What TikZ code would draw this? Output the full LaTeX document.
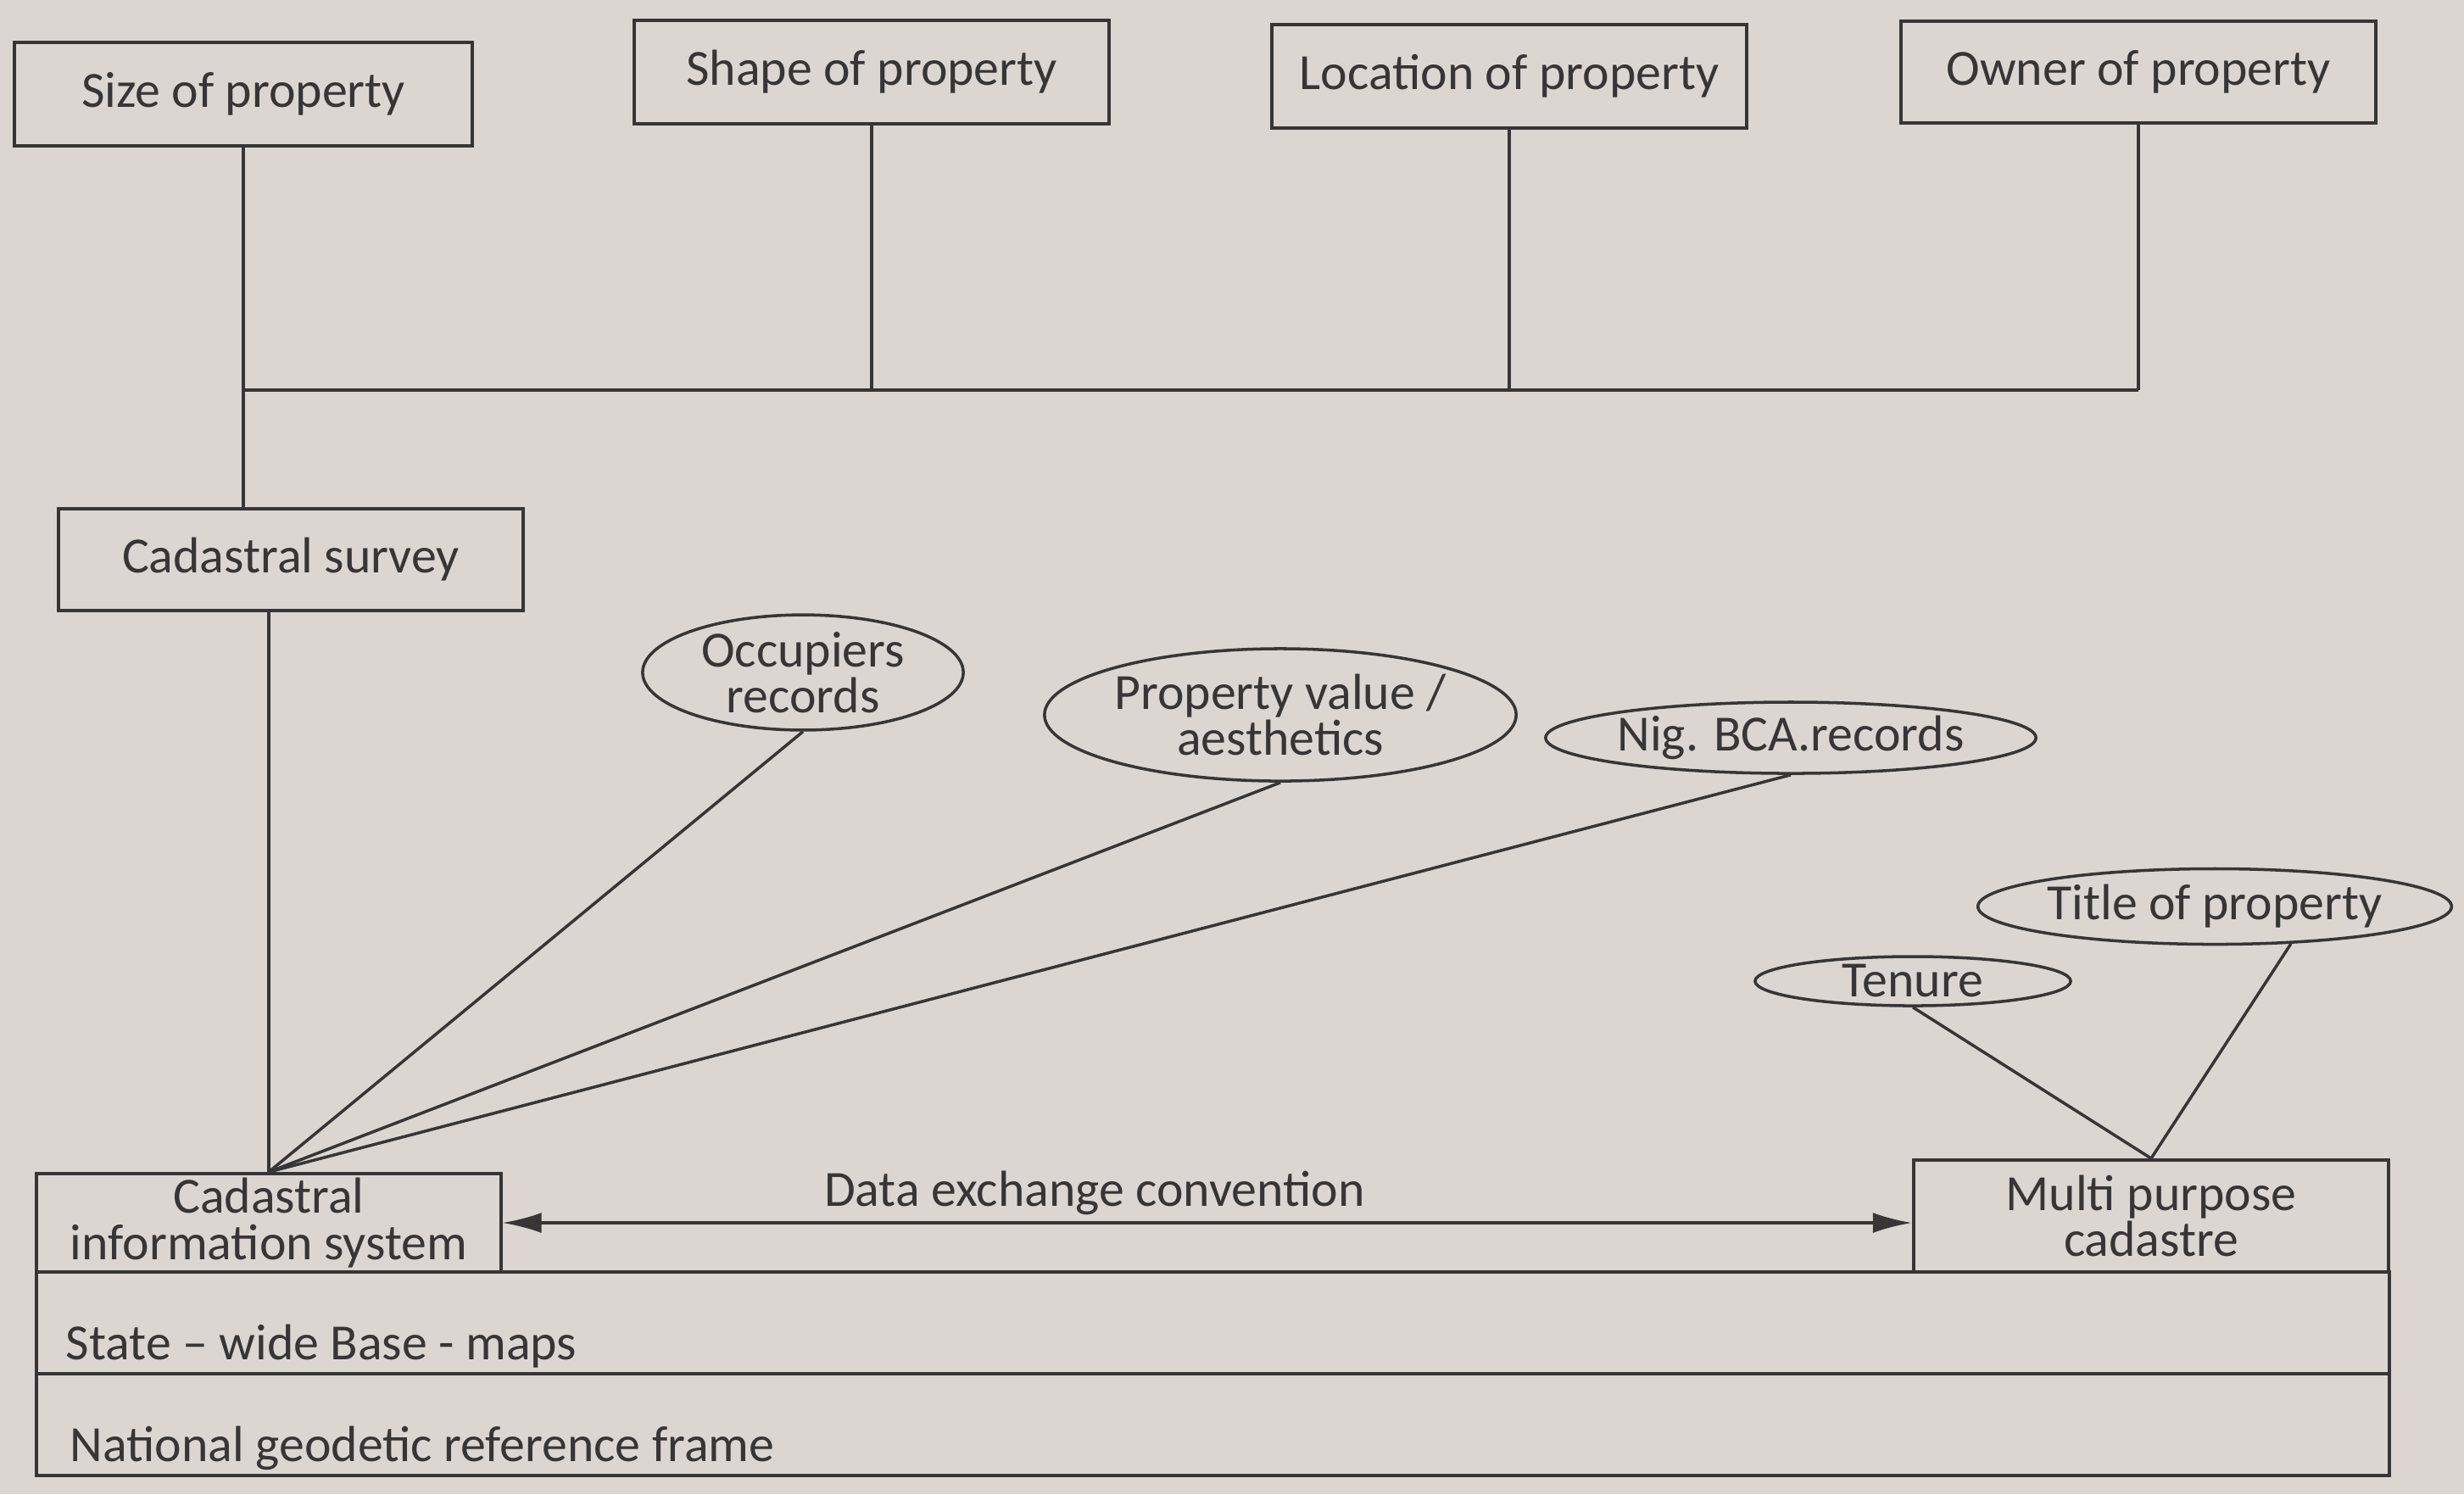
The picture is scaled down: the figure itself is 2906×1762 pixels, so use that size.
\documentclass[tikz,border=0pt]{standalone}
\usepackage{fontspec}
\setmainfont{Carlito}
\usepackage{tikz}
\usetikzlibrary{shapes.geometric, arrows.meta, positioning}
\definecolor{paper}{RGB}{219,214,210}
\definecolor{ink}{RGB}{55,53,53}
\newcommand{\lbl}{\fontsize{17}{15.5}\selectfont}
\tikzstyle{propbox} = [rectangle, minimum width=5.6cm, minimum height=1.22cm, text centered, align=center, draw=ink, line width=1.1pt, text=ink, font=\lbl]
\tikzstyle{recbubble} = [ellipse, inner sep=0pt, align=center, draw=ink, line width=1pt, text=ink, font=\lbl]
\tikzstyle{band} = [rectangle, minimum width=27.73cm, minimum height=1.2cm, outer sep=0pt, draw=ink, line width=1.1pt]
\tikzstyle{bandtext} = [inner sep=0pt, text=ink, font=\lbl]
\tikzstyle{link} = [draw=ink, line width=1pt]
\tikzstyle{arrow} = [link, {Latex[length=0.46cm,width=0.24cm]}-{Latex[length=0.46cm,width=0.24cm]}]

\begin{document}
\begin{tikzpicture}[x=0.01cm, y=-0.01cm]

\fill [paper] (0,0) rectangle (2906,1762);

% Top row
\node (size) [propbox, minimum width=5.4cm] at (287,111) {Size of property};
\node (shape) [propbox] at (1028,85) {Shape of property};
\node (location) [propbox] at (1780,90) {Location of property};
\node (owner) [propbox, minimum height=1.2cm] at (2522,85) {Owner of property};
\coordinate (busL) at (287,460);
\node (survey) [propbox, minimum width=5.48cm, minimum height=1.2cm] at (343,660) {Cadastral survey};

% Records
\node (occupiers) [recbubble, minimum width=3.78cm, minimum height=1.26cm] at (947,793) {Occupiers\\records};
\node (propvalue) [recbubble, minimum width=5.56cm, minimum height=1.56cm] at (1510,843) {Property value /\\aesthetics};
\node (bca) [recbubble, minimum width=5.56cm, minimum height=0.84cm] at (2112,870) {Nig. BCA.records};
\node (title) [recbubble, minimum width=5.56cm, minimum height=0.89cm] at (2612,1069) {Title of property};
\node (tenure) [recbubble, minimum width=3.72cm, minimum height=0.58cm] at (2256,1157) {Tenure};

% Bottom layers
\node (cis) [propbox, inner ysep=1pt, minimum width=5.47cm, minimum height=1.16cm] at (317,1442) {Cadastral\\information system};
\node (mpc) [propbox, inner ysep=1pt, minimum width=5.6cm, minimum height=1.32cm] at (2537,1434) {Multi purpose\\cadastre};
\node (basemaps) [band] at (1430.5,1560) {};
\node (geodetic) [band, below=0pt of basemaps] {};
\node (basetxt) [bandtext, above right=0.06cm and 0.34cm of basemaps.south west] {State – wide Base - maps};
\node (geotxt) [bandtext, above right=0.06cm and 0.39cm of geodetic.south west] {National geodetic reference frame};

% Lines
\draw [link] (size.south) -- (size.south |- survey.north);
\draw [link] (shape.south) -- (shape.south |- busL);
\draw [link] (location.south) -- (location.south |- busL);
\draw [link] (owner.south) -- (owner.south |- busL);
\draw [link] (busL) -- (owner.south |- busL); % common bus
\draw [link] (survey.south -| cis.north) -- (cis.north);
\draw [link] (occupiers.south) -- (cis.north);
\draw [link] (propvalue.south) -- (cis.north);
\draw [link] (bca.south) -- (cis.north);
\draw [link] (tenure.south) -- (mpc.north);
\draw [link] (title.-26) -- (mpc.north);
\draw [arrow] (cis.east) -- node (exchange) [pos=0.42, above, inner sep=2pt, text=ink, font=\lbl] {Data exchange convention} (cis.east -| mpc.west);

\end{tikzpicture}
\end{document}
